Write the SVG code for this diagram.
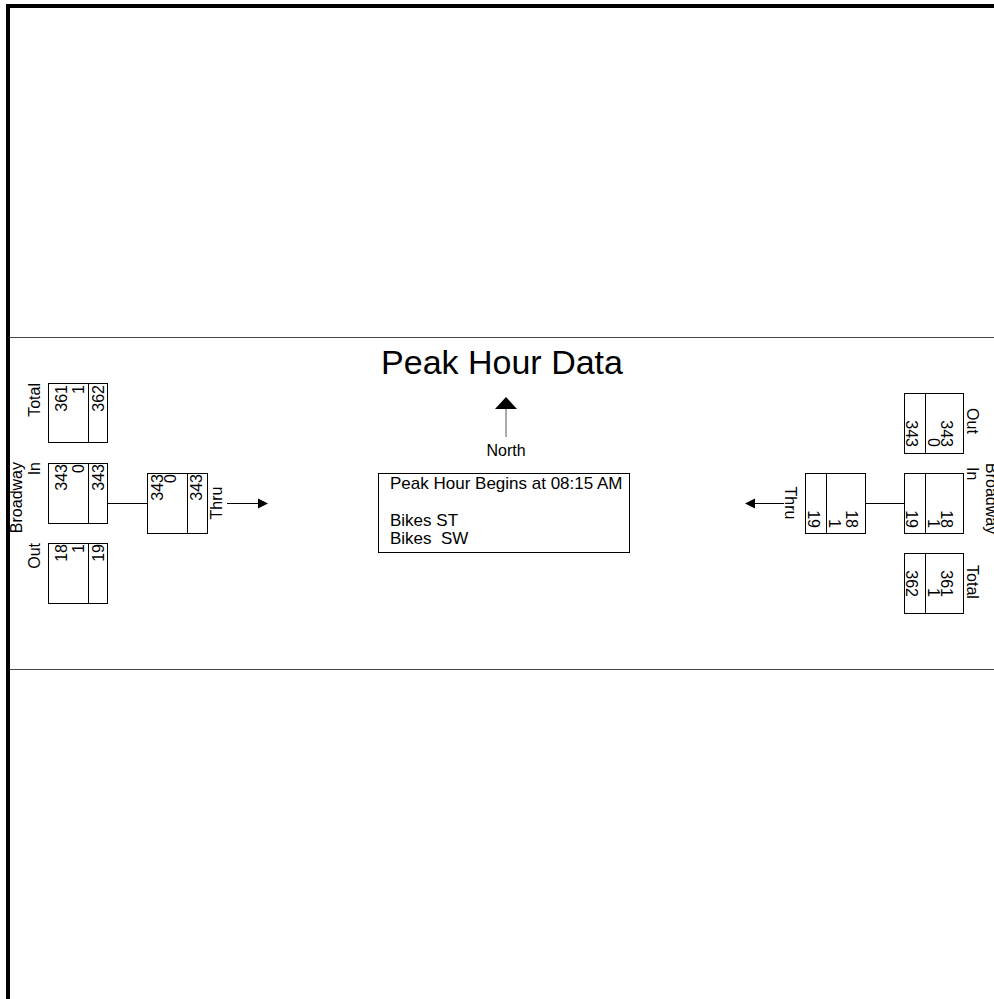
<svg xmlns="http://www.w3.org/2000/svg" width="994" height="999" viewBox="0 0 994 999">
<style>
text{font-family:"Liberation Sans",Arial,sans-serif;fill:#000}
.n{font-size:16px}
.l{font-size:16px}
.box{fill:#fff;stroke:#000;stroke-width:1}
.ln{stroke:#000;stroke-width:1;fill:none}
</style>
<rect x="0" y="0" width="994" height="999" fill="#fff"/>
<path d="M8 999V6H994" fill="none" stroke="#000" stroke-width="4"/>
<line x1="10" y1="337.5" x2="994" y2="337.5" stroke="#444" stroke-width="1"/>
<line x1="10" y1="669.5" x2="994" y2="669.5" stroke="#444" stroke-width="1"/>
<text x="502" y="374" font-size="34" text-anchor="middle">Peak Hour Data</text>

<g id="north">
<polygon points="506,397 495,409 517,409" fill="#000"/>
<line x1="506" y1="409" x2="506" y2="437" stroke="#555" stroke-width="1"/>
<text x="506" y="456" class="l" text-anchor="middle">North</text>
</g>

<g id="info">
<rect x="378.5" y="473.5" width="251" height="79" class="box"/>
<text x="390" y="489" font-size="17">Peak Hour Begins at 08:15 AM</text>
<text x="390" y="526" font-size="17">Bikes ST</text>
<text x="390" y="544" font-size="17" xml:space="preserve">Bikes  SW</text>
</g>

<g id="connectors">
<line x1="107" y1="503.5" x2="147" y2="503.5" class="ln"/>
<line x1="227" y1="503.5" x2="259" y2="503.5" class="ln"/>
<polygon points="268,503.5 258,498.5 258,508.5" fill="#000"/>
<line x1="865" y1="503.5" x2="904" y2="503.5" class="ln"/>
<line x1="754" y1="503.5" x2="784" y2="503.5" class="ln"/>
<polygon points="745,503.5 755,498.5 755,508.5" fill="#000"/>
</g>

<g id="west-total">
<rect x="48.5" y="383.5" width="59" height="59" class="box"/>
<line x1="88.5" y1="383.5" x2="88.5" y2="442.5" class="ln"/>
<text class="l" text-anchor="end" transform="translate(40,383) rotate(-90)">Total</text>
<text class="n" text-anchor="end" transform="translate(67,385) rotate(-90)">361</text>
<text class="n" text-anchor="end" transform="translate(84,385) rotate(-90)">1</text>
<text class="n" text-anchor="end" transform="translate(104,385) rotate(-90)">362</text>
</g>

<g id="west-in">
<rect x="48.5" y="463.5" width="59" height="60" class="box"/>
<line x1="88.5" y1="463.5" x2="88.5" y2="523.5" class="ln"/>
<text class="l" text-anchor="end" transform="translate(22,462) rotate(-90)">Broadway</text>
<text class="l" text-anchor="end" transform="translate(40,462) rotate(-90)">In</text>
<text class="n" text-anchor="end" transform="translate(67,464) rotate(-90)">343</text>
<text class="n" text-anchor="end" transform="translate(84,464) rotate(-90)">0</text>
<text class="n" text-anchor="end" transform="translate(104,464) rotate(-90)">343</text>
</g>

<g id="west-out">
<rect x="48.5" y="543.5" width="59" height="60" class="box"/>
<line x1="88.5" y1="543.5" x2="88.5" y2="603.5" class="ln"/>
<text class="l" text-anchor="end" transform="translate(40,543) rotate(-90)">Out</text>
<text class="n" text-anchor="end" transform="translate(67,544) rotate(-90)">18</text>
<text class="n" text-anchor="end" transform="translate(84,544) rotate(-90)">1</text>
<text class="n" text-anchor="end" transform="translate(104,544) rotate(-90)">19</text>
</g>

<g id="west-thru">
<rect x="147.5" y="473.5" width="60" height="60" class="box"/>
<line x1="187.5" y1="473.5" x2="187.5" y2="533.5" class="ln"/>
<text class="n" text-anchor="end" transform="translate(163,474) rotate(-90)">343</text>
<text class="n" text-anchor="end" transform="translate(176,474) rotate(-90)">0</text>
<text class="n" text-anchor="end" transform="translate(202,474) rotate(-90)">343</text>
<text class="l" text-anchor="middle" transform="translate(222,503) rotate(-90)">Thru</text>
</g>

<g id="east-out">
<rect x="904.5" y="393.5" width="59" height="60" class="box"/>
<line x1="925.5" y1="393.5" x2="925.5" y2="453.5" class="ln"/>
<text class="l" text-anchor="middle" transform="translate(967,421) rotate(90)">Out</text>
<text class="n" text-anchor="end" transform="translate(941,447) rotate(90)">343</text>
<text class="n" text-anchor="end" transform="translate(928,447) rotate(90)">0</text>
<text class="n" text-anchor="end" transform="translate(906,447) rotate(90)">343</text>
</g>

<g id="east-in">
<rect x="904.5" y="473.5" width="59" height="60" class="box"/>
<line x1="925.5" y1="473.5" x2="925.5" y2="533.5" class="ln"/>
<text class="l" transform="translate(967,467) rotate(90)">In</text>
<text class="l" transform="translate(986,463) rotate(90)">Broadway</text>
<text class="n" text-anchor="end" transform="translate(941,528) rotate(90)">18</text>
<text class="n" text-anchor="end" transform="translate(928,528) rotate(90)">1</text>
<text class="n" text-anchor="end" transform="translate(906,528) rotate(90)">19</text>
</g>

<g id="east-total">
<rect x="904.5" y="553.5" width="59" height="60" class="box"/>
<line x1="925.5" y1="553.5" x2="925.5" y2="613.5" class="ln"/>
<text class="l" text-anchor="middle" transform="translate(967,582) rotate(90)">Total</text>
<text class="n" text-anchor="end" transform="translate(941,597) rotate(90)">361</text>
<text class="n" text-anchor="end" transform="translate(928,597) rotate(90)">1</text>
<text class="n" text-anchor="end" transform="translate(906,597) rotate(90)">362</text>
</g>

<g id="east-thru">
<rect x="805.5" y="473.5" width="60" height="60" class="box"/>
<line x1="826.5" y1="473.5" x2="826.5" y2="533.5" class="ln"/>
<text class="n" text-anchor="end" transform="translate(846,528) rotate(90)">18</text>
<text class="n" text-anchor="end" transform="translate(829,528) rotate(90)">1</text>
<text class="n" text-anchor="end" transform="translate(808,528) rotate(90)">19</text>
<text class="l" text-anchor="middle" transform="translate(785,503) rotate(90)">Thru</text>
</g>
</svg>
